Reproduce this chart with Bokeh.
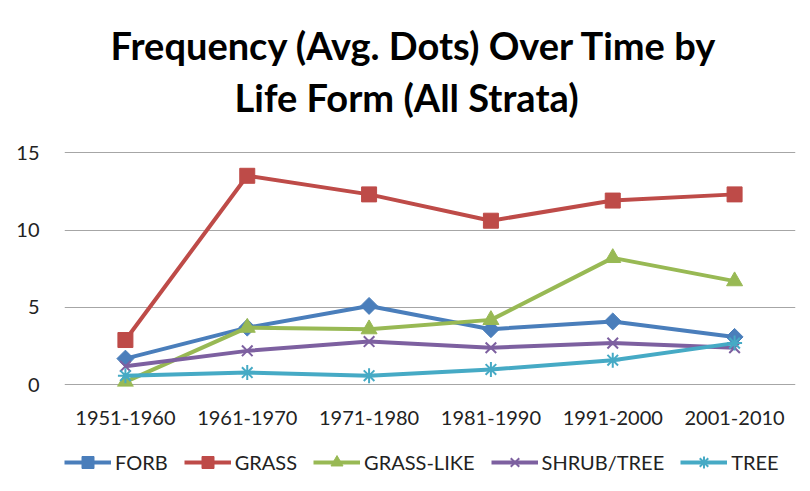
import numpy as np
from bokeh.plotting import figure
from bokeh.layouts import column
from bokeh.models import Range1d, Title, Legend, LegendItem, ColumnDataSource, FactorRange
from bokeh.embed import file_html
from bokeh.resources import INLINE

categories = ["1951-1960", "1961-1970", "1971-1980", "1981-1990", "1991-2000", "2001-2010"]
series_names = ["FORB", "GRASS", "GRASS-LIKE", "SHRUB/TREE", "TREE"]
forb = [1.7, 3.7, 5.1, 3.6, 4.1, 3.1]
grass = [2.9, 13.5, 12.3, 10.6, 11.9, 12.3]
grass_like = [0.2, 3.7, 3.6, 4.2, 8.2, 6.7]
shrub_tree = [1.2, 2.2, 2.8, 2.4, 2.7, 2.4]
tree = [0.6, 0.8, 0.6, 1.0, 1.6, 2.7]
y_ticks = [0, 5, 10, 15]
title_lines = ["Frequency (Avg. Dots) Over Time by", "Life Form (All Strata)"]

colors = ["#4A7EBB", "#BE4B48", "#98B954", "#7D60A0", "#46AAC5"]
markers = ["square", "square", "triangle", "x", "asterisk"]
angles = [np.pi / 4, 0, 0, 0, 0]
sizes = [12, 15, 16, 15, 15]
all_values = [forb, grass, grass_like, shrub_tree, tree]

x_range = FactorRange(*categories, range_padding=0)
p = figure(frame_width=731, frame_height=262, x_range=x_range,
           y_range=Range1d(-0.1, 16.81), output_backend="svg", toolbar_location=None,
           min_border_left=64, min_border_right=15, min_border_top=124, min_border_bottom=50)
p.outline_line_color = None
p.xgrid.grid_line_color = None
p.ygrid.grid_line_color = "#A6A6A6"
p.ygrid.grid_line_width = 1.2
p.yaxis.ticker = y_ticks
for ax in (p.xaxis[0], p.yaxis[0]):
    ax.axis_line_color = None
    ax.major_tick_line_color = None
    ax.minor_tick_line_color = None
    ax.major_label_text_font = "Lato"
    ax.major_label_text_font_size = "20px"
    ax.major_label_text_color = "#222222"
p.xaxis.major_label_standoff = 18
p.yaxis.major_label_standoff = 19

# separate strip below the chart that carries the legend
lp = figure(width=810, height=55, x_range=x_range, y_range=Range1d(100, 101),
            output_backend="svg", toolbar_location=None, min_border=0,
            x_axis_location=None, y_axis_location=None)
lp.outline_line_color = None
for g in lp.grid:
    g.visible = False

items = []
for name, vals, c, m, a, s in zip(series_names, all_values, colors, markers, angles, sizes):
    src = ColumnDataSource(dict(x=categories, y=vals))
    p.line("x", "y", source=src, line_color=c, line_width=4)
    p.scatter("x", "y", source=src, marker=m, size=s, angle=a,
              fill_color=c, line_color=c, line_width=2 if m in ("x", "asterisk") else 1)
    # same series in the legend strip (out of its visible range) to drive the legend glyphs
    ln = lp.line("x", "y", source=src, line_color=c, line_width=4)
    sc = lp.scatter("x", "y", source=src, marker=m, size=s, angle=a,
                    fill_color=c, line_color=c, line_width=2 if m in ("x", "asterisk") else 1)
    items.append(LegendItem(label=name, renderers=[ln, sc]))

legend = Legend(items=items, orientation="horizontal", location=(0, 14),
                glyph_width=47, glyph_height=30, label_standoff=4, spacing=16,
                padding=0, margin=0, border_line_color=None, background_fill_alpha=0,
                label_text_font="Lato", label_text_font_size="20px", label_text_color="#222222")
lp.add_layout(legend, "center")

p.title = None
p.add_layout(Title(text=title_lines[1], align="left", offset=170, standoff=9, text_font="Lato",
                   text_font_style="bold", text_font_size="38px", text_color="#000000"), "above")
p.add_layout(Title(text=title_lines[0], align="left", offset=46, standoff=0, text_font="Lato",
                   text_font_style="bold", text_font_size="38px", text_color="#000000"), "above")

layout = column(p, lp, spacing=0)
open("out.html", "w").write(file_html(layout, INLINE))
